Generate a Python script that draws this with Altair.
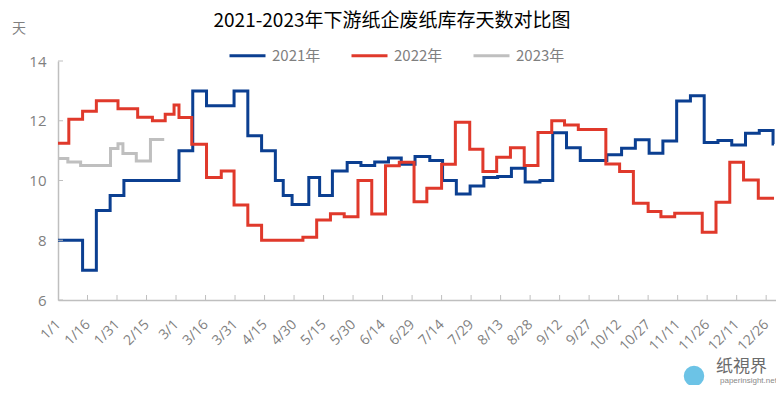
import altair as alt
import pandas as pd

# ---------------- data ----------------
series_names = ["2021年", "2022年", "2023年"]
series_colors = ["#0B3F91", "#E0392B", "#BFBFBF"]
series_widths = [3, 3, 4]

# day offset from 1/1 where a new level starts, and the level
d21 = [0, 12.5, 19.5, 26.5, 33.5, 61.5, 68.5, 75.5, 89.5, 96.5, 103.5, 110.5, 114.5,
       119, 127.5, 133, 139.5, 147, 154, 161, 168, 174.5, 181.5, 189, 195.5, 202.5,
       209.5, 216.5, 223.5, 230.5, 237.5, 245, 251.5, 258.5, 265.5, 279, 286.5, 293.5,
       300.5, 307.5, 314.5, 321.5, 328.5, 335.5, 342.5, 349.5, 356.5, 363.5, 364]
v21 = [8.0, 7.0, 9.0, 9.5, 10.0, 11.0, 13.0, 12.5, 13.0, 11.5, 11.0, 10.0, 9.5,
       9.2, 10.1, 9.5, 10.32, 10.6, 10.5, 10.62, 10.75, 10.54, 10.8, 10.67, 10.0, 9.55,
       9.82, 10.1, 10.13, 10.41, 9.95, 10.0, 11.6, 11.1, 10.67, 10.86, 11.08, 11.36,
       10.91, 11.32, 12.66, 12.84, 11.27, 11.34, 11.19, 11.58, 11.67, 11.22, 11.22]

d22 = [0, 5.5, 12.5, 19.5, 30.5, 40.5, 48, 54.5, 59, 61.5, 68, 75.5, 83, 89.5, 96.5,
       103.5, 124.5, 131.5, 138.5, 145.5, 152.5, 159.5, 166.5, 173.5, 181, 187.5, 195,
       202, 209.3, 216, 223, 230, 237, 244, 251, 257.5, 264.5, 278.5, 285.5, 292.5, 300,
       306.5, 313.5, 327.5, 334.5, 341.5, 348.5, 356, 364]
v22 = [11.25, 12.05, 12.32, 12.67, 12.4, 12.12, 12.0, 12.22, 12.53, 12.11, 11.21, 10.1,
       10.32, 9.18, 8.5, 8.0, 8.1, 8.68, 8.89, 8.79, 10.0, 8.88, 10.49, 10.61, 9.29, 9.74,
       10.54, 11.95, 11.05, 10.3, 10.78, 11.1, 10.5, 11.61, 12.0, 11.86, 11.71, 10.55,
       10.3, 9.24, 8.96, 8.79, 8.9, 8.27, 9.27, 10.61, 10.02, 9.41, 9.41]

d23 = [0, 5, 11.5, 26.7, 30.5, 33, 39.8, 47, 54]
v23 = [10.74, 10.62, 10.5, 11.07, 11.23, 10.9, 10.65, 11.37, 11.37]

tick_days = list(range(0, 361, 15))
tick_labels = ["1/1", "1/16", "1/31", "2/15", "3/1", "3/16", "3/31", "4/15", "4/30",
               "5/15", "5/30", "6/14", "6/29", "7/14", "7/29", "8/13", "8/28", "9/12",
               "9/27", "10/12", "10/27", "11/11", "11/26", "12/11", "12/26"]
y_ticks = [6, 8, 10, 12, 14]

title_text = "2021-2023年下游纸企废纸库存天数对比图"
unit_text = "天"
logo_text = "纸視界"
logo_url = "paperinsight.net"

# ---------------- build ----------------
rows = []
for name, days, vals in zip(series_names, [d21, d22, d23], [v21, v22, v23]):
    for d, v in zip(days, vals):
        rows.append({"series": name, "day": d, "value": v})
df = pd.DataFrame(rows)

W, H = 718, 239
AX = "#BFBFBF"
LBL = "#7F7F7F"

label_expr = "[" + ",".join("'%s'" % t for t in tick_labels) + "][round(datum.value/15)]"
x_scale = alt.Scale(domain=[0, 365], nice=False, zero=False)
y_scale = alt.Scale(domain=[6, 14], nice=False, zero=False)

x_axis = alt.Axis(values=tick_days, labelExpr=label_expr, labelAngle=-45,
                  labelAlign="right", labelBaseline="middle", labelPadding=22,
                  ticks=False, grid=False, domainColor=AX, domainWidth=1.5,
                  labelColor=LBL, labelFontSize=14, labelFont="Open Sans",
                  labelOverlap=False, labelBound=False, labelFlush=False, title=None)
y_axis = alt.Axis(values=y_ticks, ticks=False, grid=False, domainColor=AX,
                  domainWidth=1.5, labelColor=LBL, labelFontSize=15,
                  labelFont="Open Sans", labelPadding=12, labelOverlap=False, title=None)

lines = alt.Chart(df).mark_line(interpolate="step-after", strokeJoin="miter").encode(
    x=alt.X("day:Q", scale=x_scale, axis=x_axis),
    y=alt.Y("value:Q", scale=y_scale, axis=y_axis),
    color=alt.Color("series:N", scale=alt.Scale(domain=series_names, range=series_colors),
                    legend=alt.Legend(orient="none", legendX=170, legendY=-25,
                                      direction="horizontal", title=None,
                                      symbolType="stroke", symbolSize=1296,
                                      symbolStrokeWidth=3.5, labelFontSize=15,
                                      labelColor=LBL, labelFont="Noto Sans CJK SC",
                                      labelOffset=5, columnPadding=24, padding=0)),
    strokeWidth=alt.StrokeWidth("series:N", scale=alt.Scale(domain=series_names, range=series_widths),
                                legend=None),
)

xt = alt.Chart(pd.DataFrame({"day": tick_days[1:]})).mark_rule(color=AX, strokeWidth=1).encode(
    x=alt.X("day:Q", scale=x_scale, axis=x_axis), y=alt.value(H - 5), y2=alt.value(H))
yt = alt.Chart(pd.DataFrame({"value": y_ticks})).mark_rule(color=AX, strokeWidth=1).encode(
    y=alt.Y("value:Q", scale=y_scale, axis=y_axis), x=alt.value(0), x2=alt.value(5))

title = alt.Chart(pd.DataFrame({"t": [title_text]})).mark_text(
    font="Noto Sans CJK SC", fontSize=19, color="#000000", align="center", baseline="middle"
).encode(text="t:N", x=alt.value(334), y=alt.value(-40))

unit = alt.Chart(pd.DataFrame({"t": [unit_text]})).mark_text(
    font="Noto Sans CJK SC", fontSize=14, color=LBL, align="center", baseline="middle"
).encode(text="t:N", x=alt.value(-39), y=alt.value(-32))

logo_dot = alt.Chart(pd.DataFrame({"t": [logo_text]})).mark_point(
    filled=True, color="#6CC3E6", size=420, opacity=1
).encode(x=alt.value(636), y=alt.value(76 + H))
logo = alt.Chart(pd.DataFrame({"t": [logo_text]})).mark_text(
    font="Noto Sans CJK SC", fontSize=17, color="#6B6B6B", align="left", baseline="middle"
).encode(text="t:N", x=alt.value(658), y=alt.value(67 + H))
url = alt.Chart(pd.DataFrame({"t": [logo_url]})).mark_text(
    font="Liberation Sans", fontSize=8, color="#8A8A8A", align="left", baseline="bottom"
).encode(text="t:N", x=alt.value(662), y=alt.value(85 + H))

chart = alt.layer(lines, xt, yt, title, unit, logo_dot, logo, url).properties(
    width=W, height=H,
    autosize=alt.AutoSizeParams(type="none"),
    padding={"left": 50, "top": 53, "right": 0, "bottom": 85},
    background="white",
).configure_view(stroke=None)

chart.save("out.html", embed_options={"renderer": "svg", "actions": False})
